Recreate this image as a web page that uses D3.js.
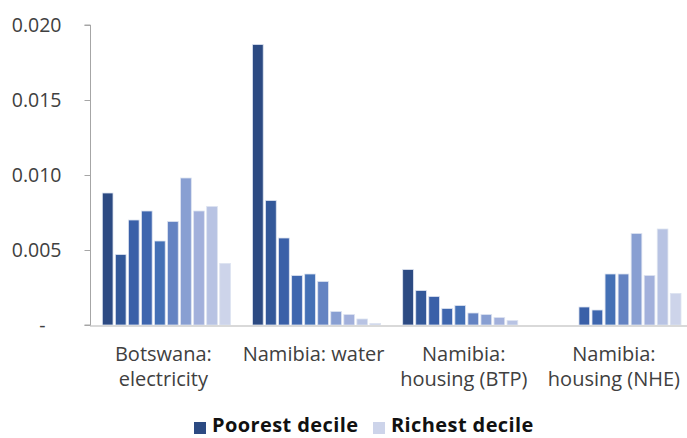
<!DOCTYPE html>
<html>
<head>
<meta charset="utf-8">
<script src="https://cdn.jsdelivr.net/npm/d3@7"></script>
<style>
  html, body { margin: 0; padding: 0; background: #fff; }
  text { font-family: "Open Sans", "Noto Sans", sans-serif; }
</style>
</head>
<body>
<svg id="chart" width="687" height="438"></svg>
<script>
// ---- data ----
const categories = [
  ["Botswana:", "electricity"],
  ["Namibia: water"],
  ["Namibia:", "housing (BTP)"],
  ["Namibia:", "housing (NHE)"]
];
const deciles = ["D1","D2","D3","D4","D5","D6","D7","D8","D9","D10"];
const botswanaElectricity = [0.0088, 0.0047, 0.0070, 0.0076, 0.0056, 0.0069, 0.0098, 0.0076, 0.0079, 0.0041];
const namibiaWater        = [0.0187, 0.0083, 0.0058, 0.0033, 0.0034, 0.0029, 0.0009, 0.0007, 0.0004, 0.0001];
const namibiaHousingBTP   = [0.0037, 0.0023, 0.0019, 0.0011, 0.0013, 0.0008, 0.0007, 0.0005, 0.0003, 0.0000];
const namibiaHousingNHE   = [0.0000, 0.0000, 0.0012, 0.0010, 0.0034, 0.0034, 0.0061, 0.0033, 0.0064, 0.0021];
const seriesValues = [botswanaElectricity, namibiaWater, namibiaHousingBTP, namibiaHousingNHE];
const yTicks = [0, 0.005, 0.010, 0.015, 0.020];
const yTickLabels = ["-", "0.005", "0.010", "0.015", "0.020"];
const legendLabels = ["Poorest decile", "Richest decile"];
const decileColors = ["#2c4a82", "#335899", "#3a60a8", "#3e66ae", "#4470b5", "#6483c2", "#889fd2", "#a2b0db", "#b8c3e3", "#cdd4ea"];

// ---- layout ----
const svg = d3.select("#chart");
const left = 90, baseY = 325, topY = 25;

const y = d3.scaleLinear().domain([0, 0.020]).range([baseY, topY]);
const x0 = d3.scaleBand().domain(d3.range(categories.length)).range([left, 693.3])
  .paddingInner(0.147).paddingOuter(0.082);
const x1 = d3.scaleBand().domain(deciles).range([0, x0.bandwidth()]).paddingInner(0.18).paddingOuter(0);

// bars
const groups = svg.append("g").selectAll("g")
  .data(seriesValues).join("g")
  .attr("transform", (d, i) => `translate(${x0(i)},0)`);
groups.selectAll("rect")
  .data(d => d.map((v, j) => ({v, j})))
  .join("rect")
  .attr("x", d => x1(deciles[d.j]))
  .attr("width", x1.bandwidth())
  .attr("y", d => y(d.v))
  .attr("height", d => baseY - y(d.v))
  .attr("fill", d => decileColors[d.j])
  .attr("stroke", "#dde3f0")
  .attr("stroke-width", 0.8);

// x axis line
svg.append("line")
  .attr("x1", left).attr("x2", 687)
  .attr("y1", baseY + 1).attr("y2", baseY + 1)
  .attr("stroke", "#d9d9d9").attr("stroke-width", 2);

// y axis
const yAxis = d3.axisLeft(y).tickValues(yTicks).tickSize(6)
  .tickFormat((d, i) => yTickLabels[i]).tickPadding(24);
const ya = svg.append("g").attr("transform", `translate(${left + 0.5},0)`).call(yAxis);
ya.select(".domain").attr("stroke", "#a6a6a6").attr("d", `M-6,${topY}H0V${baseY}H-6`);
ya.selectAll(".tick line").attr("stroke", "#a6a6a6");
ya.selectAll(".tick text")
  .attr("fill", "#404040")
  .style("font-size", "19.5px")
  .style("font-family", "'Open Sans', sans-serif")
  .attr("x", d => d === 0 ? -45 : -29)
  .attr("dy", "0.35em");

// category labels
const catG = svg.append("g");
categories.forEach((lines, i) => {
  const cx = x0(i) + x0.bandwidth() / 2 - 3;
  const t = catG.append("text")
    .attr("x", cx).attr("y", 361)
    .attr("text-anchor", "middle")
    .attr("fill", "#404040")
    .style("font-size", "20px");
  lines.forEach((ln, k) => {
    t.append("tspan").attr("x", cx).attr("dy", k === 0 ? 0 : 25).text(ln);
  });
});

// legend
const legend = [
  {label: legendLabels[0], color: decileColors[0], x: 194},
  {label: legendLabels[1], color: decileColors[9], x: 373}
];
const lg = svg.append("g");
legend.forEach(l => {
  lg.append("rect").attr("x", l.x).attr("y", 422).attr("width", 12).attr("height", 12).attr("fill", l.color);
  lg.append("text").attr("x", l.x + 18).attr("y", 432)
    .attr("fill", "#111").style("font-size", "20px").style("font-weight", "700")
    .style("letter-spacing", "0.4px")
    .text(l.label);
});
</script>
</body>
</html>
